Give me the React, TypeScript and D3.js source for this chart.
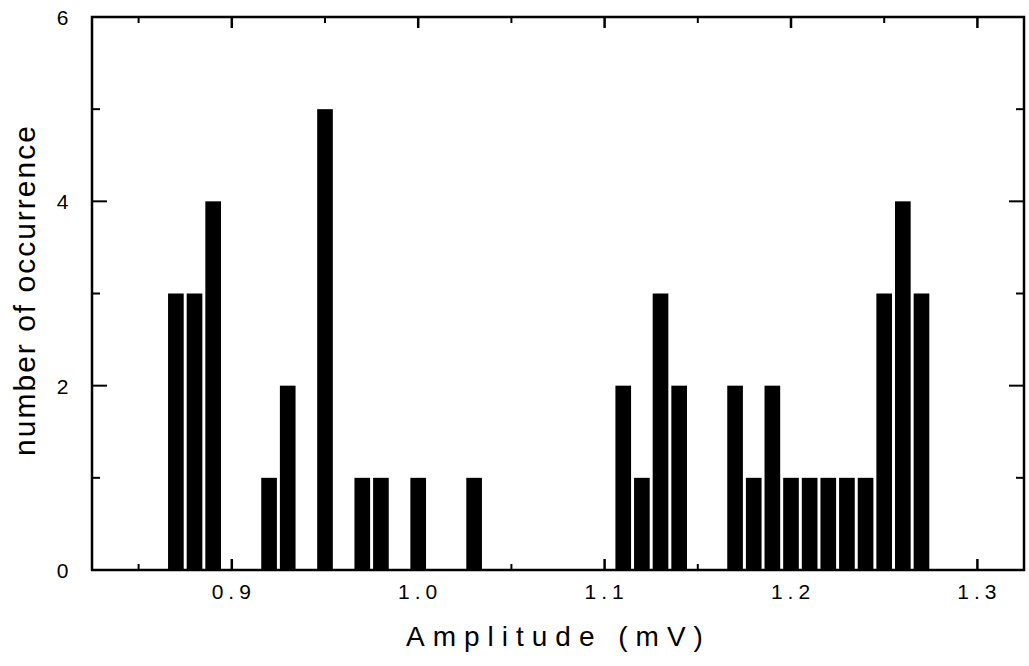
import React from "react";
import * as d3 from "d3";

const amplitudes = [0.87, 0.88, 0.89, 0.92, 0.93, 0.95, 0.97, 0.98, 1.0, 1.03, 1.11, 1.12, 1.13, 1.14, 1.17, 1.18, 1.19, 1.2, 1.21, 1.22, 1.23, 1.24, 1.25, 1.26, 1.27];
const counts = [3, 3, 4, 1, 2, 5, 1, 1, 1, 1, 2, 1, 3, 2, 2, 1, 2, 1, 1, 1, 1, 1, 3, 4, 3];
const xMajorTicks = [0.9, 1.0, 1.1, 1.2, 1.3];
const xMinorTicks = [0.85, 0.95, 1.05, 1.15, 1.25];
const yMajorTicks = [0, 2, 4, 6];
const yMinorTicks = [1, 3, 5];

export default function App() {
  const W = 1029, H = 666;
  const left = 92, right = 1024, top = 17, bottom = 570;
  const x = d3.scaleLinear().domain([0.825, 1.325]).range([left, right]);
  const y = d3.scaleLinear().domain([0, 6]).range([bottom, top]);
  const binW = 0.0084;
  const font = "Arial, 'Liberation Sans', sans-serif";
  const data = amplitudes.map((a, i) => ({ a, c: counts[i] }));
  return (
    <svg width={W} height={H} style={{ position: "absolute", left: 0, top: 0, background: "#fff" }}>
      <g>
        {data.map((d, i) => (
          <rect key={i} x={x(d.a - binW / 2)} y={y(d.c)} width={x(d.a + binW / 2) - x(d.a - binW / 2)} height={y(0) - y(d.c)} fill="#000" />
        ))}
      </g>
      <rect x={left} y={top} width={right - left} height={bottom - top} fill="none" stroke="#000" strokeWidth={2.5} />
      {xMajorTicks.map((t) => (
        <g key={"xm" + t}>
          <line x1={x(t)} x2={x(t)} y1={bottom} y2={bottom - 11} stroke="#000" strokeWidth={2.5} />
          <line x1={x(t)} x2={x(t)} y1={top} y2={top + 11} stroke="#000" strokeWidth={2.5} />
          <text x={x(t) + 2} y={599} textAnchor="middle" fontFamily={font} fontSize={21} letterSpacing={5}>{d3.format(".1f")(t)}</text>
        </g>
      ))}
      {xMinorTicks.map((t) => (
        <g key={"xn" + t}>
          <line x1={x(t)} x2={x(t)} y1={bottom} y2={bottom - 6} stroke="#000" strokeWidth={2} />
          <line x1={x(t)} x2={x(t)} y1={top} y2={top + 6} stroke="#000" strokeWidth={2} />
        </g>
      ))}
      {yMajorTicks.map((t) => (
        <g key={"ym" + t}>
          <line x1={left} x2={left + 15} y1={y(t)} y2={y(t)} stroke="#000" strokeWidth={2} />
          <line x1={right} x2={right - 15} y1={y(t)} y2={y(t)} stroke="#000" strokeWidth={2} />
          <text x={62.5} y={y(t) + 8} textAnchor="middle" fontFamily={font} fontSize={21}>{t}</text>
        </g>
      ))}
      {yMinorTicks.map((t) => (
        <g key={"yn" + t}>
          <line x1={left} x2={left + 8} y1={y(t)} y2={y(t)} stroke="#000" strokeWidth={2} />
          <line x1={right} x2={right - 8} y1={y(t)} y2={y(t)} stroke="#000" strokeWidth={2} />
        </g>
      ))}
      <text x={406} y={646} textAnchor="start" fontFamily={font} fontSize={28} letterSpacing={8}>Amplitude (mV)</text>
      <text transform={`translate(35,290) rotate(-90)`} textAnchor="middle" fontFamily={font} fontSize={30} letterSpacing={2}>number of occurrence</text>
    </svg>
  );
}
